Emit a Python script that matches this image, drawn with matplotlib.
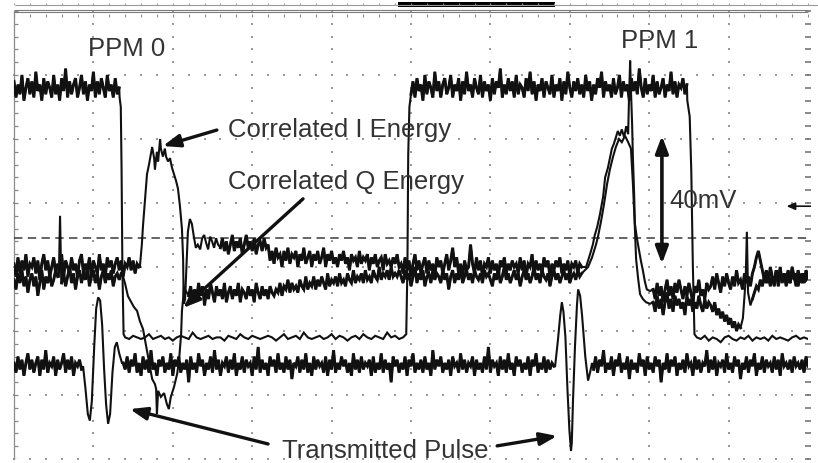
import numpy as np
import matplotlib
matplotlib.use("Agg")
import matplotlib.pyplot as plt
from matplotlib.patches import Rectangle

plt.rcParams['font.family'] = ['Liberation Sans', 'DejaVu Sans']

# ---------------- scope settings ----------------
NS_PER_DIV = 20          # horizontal: 20 ns / div
MV_PER_DIV = 20          # vertical: 20 mV / div
H_DIVS = 10
V_DIVS = 7
SCALE_BAR_MV = 40        # calibration arrow
SCALE_BAR_CENTER_MV = 81
CURSOR_MV = 69           # horizontal cursor level
GROUND_MV = 79           # channel reference marker
RECORD_WINDOW_NS = (96.7, 136.3)

# ---------------- CH1: PPM gate (square wave) ----------------
ch1_high_a = [118, 113, 117, 114, 120, 112, 116, 119, 114, 118,
              113, 121, 115, 117, 112, 119, 114, 118, 116, 113,
              120, 114, 117, 112, 119, 115, 122, 113, 118, 114,
              117, 119, 113, 116, 120, 114, 118, 112, 117, 115,
              121, 113, 118, 114, 119, 116, 113, 120, 115, 117,
              113, 119, 114, 116]
ch1_fall_a_t = [26.6, 26.9, 27.1, 27.3, 27.6]
ch1_fall_a_v = [113, 110, 90, 60, 39]
ch1_low_a = [38, 37.5, 38.5, 38, 37.5, 38, 39, 37.5, 38, 38.5,
             37.5, 38, 37, 38, 38.5, 38, 37.5, 39.5, 38, 37.5,
             38, 38.5, 37.5, 38, 38, 37, 38.5, 38, 37.5, 39,
             38, 37.5, 38.5, 38, 37.5, 38, 38.5, 38, 37, 38,
             39, 37.5, 38, 38.5, 37.5, 39.5, 38, 37.5, 38, 38.5,
             37.5, 38, 39, 37.5, 38.5, 38, 37, 38, 38.5, 37.5,
             39, 38, 37.5, 38.5, 38, 37.5, 39.5, 38, 38.5, 37.5,
             38]
ch1_rise_t = [98.8, 99.1, 99.3, 99.6]
ch1_rise_v = [39, 60, 95, 110]
ch1_high_b = [114, 118, 113, 119, 115, 117, 112, 120, 114, 118,
              116, 113, 121, 115, 118, 113, 117, 119, 114, 116,
              120, 113, 117, 115, 119, 112, 118, 114, 121, 115,
              117, 113, 119, 116, 114, 120, 113, 118, 115, 117,
              112, 119, 114, 118, 116, 122, 113, 117, 114, 119,
              115, 118, 113, 120, 114, 117, 116, 113, 119, 115,
              121, 114, 118, 112, 117, 115, 119, 113, 118, 116,
              114, 120, 113, 117, 115, 119, 112, 118, 114, 121,
              116, 113, 118, 115, 119, 114, 117, 113, 120, 115,
              118, 112, 117, 114, 119, 116, 121, 113, 118, 115,
              117, 113, 119, 114, 116, 120, 113, 118, 115, 117,
              112, 119, 115, 118, 114, 122, 116, 113, 119, 114,
              117, 115, 120, 113, 118, 114, 116, 119, 113, 117,
              115, 121, 114, 118, 113, 117, 116, 119, 114, 117]
ch1_fall_b_t = [169.6, 170.2, 170.6, 171.0, 171.4]
ch1_fall_b_v = [112, 107, 90, 60, 39]
ch1_low_b = [38, 37.5, 38.5, 37, 38, 37.5, 36.5, 38, 38.5, 37.5,
             37, 38, 37.5, 38.5, 37, 38, 37.5, 38, 37, 38.5,
             37.5, 38, 37.5, 37, 38, 38.5, 37.5, 38, 37.5]

# ---------------- CH4: transmitted pulse ----------------
ch4_base_a = [30, 27, 32, 28, 31, 26, 30, 33, 28, 31,
              27, 30, 32, 26, 31, 28, 34, 27, 30, 29,
              32, 26, 31, 28, 30, 33, 27, 31, 28, 32,
              26, 30, 29, 31, 28]
ch4_pulse_a_t = [17.4, 18.0, 18.6, 19.1, 19.6, 20.2, 20.7, 21.2, 21.7, 22.2,
                 22.7, 23.2, 23.7, 24.2, 24.8, 25.4, 25.9, 26.5, 27.2]
ch4_pulse_a_v = [29, 22, 14, 12, 18, 35, 47, 50.5, 49.5, 42,
                 28, 17, 11, 14, 27, 35, 36.5, 33, 30]
ch4_base_b = [30, 28, 32, 27, 31, 29, 33, 27, 30, 26,
              32, 28, 31, 27, 34, 28, 30, 26, 31, 29,
              32, 27, 30, 28, 33, 26, 31, 29, 32, 27,
              30, 28, 31, 24, 32, 28, 30, 27, 33, 29,
              31, 26, 30, 28, 32, 27, 34, 28, 31, 26,
              30, 29, 32, 27, 31, 28, 33, 26, 30, 28,
              32, 27, 31, 29, 30, 26, 32, 28, 35, 27,
              31, 28, 30, 26, 32, 29, 31, 27, 33, 28,
              30, 27, 32, 28, 31, 25, 30, 29, 32, 27,
              31, 28, 33, 27, 30, 26, 32, 28, 31, 29,
              30, 27, 32, 26, 31, 28, 34, 27, 30, 28,
              32, 29, 31, 27, 30, 26, 33, 28, 31, 27,
              32, 28, 30, 29, 31, 26, 32, 27, 30, 28,
              33, 27, 31, 28, 30, 24, 32, 29, 31, 27,
              30, 28, 32, 26, 31, 29, 33, 27, 30, 28,
              31, 27, 32, 28, 30, 26, 34, 28, 31, 29,
              32, 27, 30, 28, 31, 26, 32, 29, 30, 27,
              33, 28, 31, 27, 30, 29, 32, 26, 31, 28,
              30, 27, 32, 28, 35, 27, 31, 29, 30, 26,
              32, 28, 31, 27, 33, 28, 30, 26, 32, 29,
              31, 27, 30, 28, 32, 26, 31, 29, 33, 27,
              30, 28, 32, 27, 31, 28, 30, 29]
ch4_pulse_b_t = [136.3, 137.0, 137.6, 138.0, 138.4, 138.9, 139.4, 139.9, 140.3, 140.5,
                 140.8, 141.3, 141.8, 142.1, 142.6, 143.1, 143.9, 144.6, 145.1, 145.6]
ch4_pulse_b_v = [29, 37, 45, 49, 46, 38, 22, 9, 2.5, 5,
                 18, 35, 48, 53, 51, 44.7, 32, 24.5, 27, 30]
ch4_base_c = [28, 32, 27, 31, 29, 34, 27, 30, 28, 32,
              26, 31, 29, 33, 27, 30, 28, 32, 25, 31,
              28, 30, 27, 33, 29, 31, 26, 32, 28, 30,
              27, 32, 29, 31, 24, 30, 28, 33, 27, 31,
              29, 32, 26, 30, 28, 31, 27, 33, 29, 30,
              26, 32, 28, 31, 27, 30, 29, 34, 27, 31,
              28, 32, 26, 30, 29, 31, 27, 33, 28, 30,
              27, 32, 29, 31, 25, 30, 28, 32, 27, 31,
              29, 33, 26, 30, 28, 32, 27, 31, 29, 30,
              27, 32, 28, 31, 26, 33, 29, 30, 28, 31,
              27, 32, 29, 30, 28, 31, 27, 32, 29]

# ---------------- correlated I energy ----------------
i_base_a = [61, 57, 63, 58, 62, 59, 64, 57, 61, 60,
            63, 58, 62, 56, 61, 64, 59, 62, 57, 60,
            63, 58, 61, 59, 64, 57, 62, 60, 58, 63,
            59, 61, 57, 62, 64, 58, 61, 59, 63, 57,
            62, 60, 58, 64, 59, 61, 57, 63, 60, 62,
            58, 61, 63, 59, 62, 57, 61, 60, 63, 59,
            62, 58, 61, 60]
i_pulse_a_t = [31.7, 32.2, 32.5, 33.0, 33.5, 34.0, 34.3, 34.8, 35.3, 35.5,
               36.0, 36.3, 36.8, 37.0, 37.5, 38.0, 38.3, 38.8, 39.3, 39.8,
               40.3, 40.8, 41.3, 41.8, 42.3, 42.6, 42.7, 42.8, 43.1, 43.5,
               43.8, 44.3, 44.8, 45.3, 45.8, 46.3, 46.9, 47.4, 47.9, 48.4,
               48.9, 49.4, 49.9, 50.4, 50.9, 51.4]
i_pulse_a_v = [60, 67, 73, 81, 89, 92, 94, 97.5, 94, 90.5,
               96, 93, 100, 97, 94.5, 97, 94.5, 93, 94, 91,
               89, 87, 84.5, 79, 72, 62.5, 53, 48.5, 50, 62,
               71, 75, 73.5, 69.5, 66, 67, 65.5, 69, 70, 67.5,
               65.5, 69.5, 68, 66, 69, 67]
i_after_a = [66, 69, 65, 68, 64, 67, 70, 65, 68, 66,
             69, 64, 67, 70, 66, 68, 65, 69, 64, 67,
             68, 65, 69, 66, 67,
             62, 65, 61, 66, 63, 64, 60, 65, 62, 66,
             61, 64, 63, 65, 60, 64, 62, 66, 61, 63,
             65, 60, 64, 62, 65, 61, 63, 66, 60, 64,
             62, 65, 61, 63, 60, 64, 62, 65, 61, 63,
             59, 64, 62, 63, 60, 65, 61, 63, 62, 64,
             59, 63, 61, 64, 60, 62, 63, 59, 64, 61,
             62, 60, 63, 61, 64, 60,
             61, 58, 63, 59, 62, 57, 61, 64, 59, 62,
             58, 61, 63, 58, 62, 59, 61, 57, 63, 60,
             62, 58, 61, 64, 59, 62, 66, 60, 63, 58,
             61, 57, 62, 59, 60, 67, 61, 58, 63, 59,
             62, 57, 61, 60, 63, 58, 62, 59, 61, 57,
             62, 60, 63, 58, 61, 59, 62, 60, 61, 58,
             63, 59, 62, 57, 61, 60, 64, 58, 62, 59,
             61, 58, 63, 60, 62, 57, 61, 59, 62, 60,
             63, 58, 61, 59, 62, 57, 61, 60, 62, 58,
             61, 60]
i_pulse_b_t = [144.1, 145.1, 145.8, 146.3, 146.9, 147.6, 148.4, 148.9, 149.6, 150.1,
               150.6, 151.1, 151.6, 152.1, 152.6, 153.1, 153.7, 154.2, 154.7, 154.9,
               155.2, 155.4, 155.7, 155.9, 156.2, 156.4, 156.9, 157.4, 157.9, 158.4,
               158.9, 159.4, 160.2]
i_pulse_b_v = [60, 64, 67, 70, 72.5, 76.5, 82, 88, 91, 94,
               97, 98.5, 100.5, 102.5, 101, 103, 100.5, 104, 101.5, 112,
               124.5, 115.5, 104.5, 94, 83, 73.5, 69, 65.5, 62, 59,
               55.5, 53, 52.5]
i_after_b = [53, 50, 55, 51, 54, 49, 53, 56, 51, 54,
             50, 55, 52, 56, 53, 50, 54, 51, 55, 52,
             49, 54, 52, 56, 51, 53, 50, 55, 53,
             54, 57, 53, 58, 55, 52, 57, 54, 58, 55,
             53, 57, 54, 59, 55, 56, 53, 58, 55, 57,
             54, 58,
             60, 63, 65, 62, 59,
             56, 59, 55, 60, 57, 54, 59, 56, 60, 55,
             58, 56, 59, 55, 60, 57, 54, 59, 56, 58,
             55, 59, 57]

# ---------------- correlated Q energy ----------------
q_base_a1 = [56, 53, 58, 55, 59, 54, 57, 52, 56, 58,
             54, 57, 51, 55, 59, 53, 57, 55, 58, 54,
             56, 59, 57]
q_spike_a_t = [11.3, 11.6, 11.9]
q_spike_a_v = [57, 76, 56]
q_base_a2 = [55, 58, 54, 57, 60, 55, 58, 53, 57, 59,
             55, 58, 56, 60, 54, 57, 59, 55, 58, 53,
             57, 59, 55, 58, 56, 59, 54, 57, 58, 56,
             58]
q_dive_t = [27.5, 28.0, 28.7, 29.5, 30.2, 31.0, 31.7, 32.5, 33.2, 34.0,
            34.8, 35.5, 35.8, 36.0, 36.3, 37.0, 37.8, 38.5, 39.0, 39.5,
            40.3, 41.1, 41.6, 42.1, 42.3, 42.6, 42.8, 43.3]
q_dive_v = [56.9, 54.7, 50.9, 49.1, 47.5, 46.3, 43.1, 40.6, 35.9, 30.6,
            25, 23.4, 21.9, 14.1, 21.3, 19.4, 20.6, 17.2, 15.6, 19.4,
            22.5, 26.6, 31.3, 39.1, 46.3, 50, 53.8, 52.5]
q_after_a = [51, 54, 49, 53, 50, 55, 51, 54, 48, 53,
             50, 55, 52, 49, 54, 51, 53, 50, 55, 49,
             52, 54, 50, 53, 51, 55, 49, 53, 52, 50,
             54, 51, 53, 49, 55, 52, 50, 54, 51, 53,
             50, 54, 52, 51, 53,
             52, 55, 51, 54, 53, 56, 52, 55, 53, 54,
             52, 56, 54, 53, 57, 53, 55, 54, 57, 53,
             56, 54, 57, 55, 53, 58, 54, 56, 55, 57,
             54, 58, 55, 56, 54, 58, 56, 55, 59, 55,
             57, 56, 58, 55, 59, 56, 57, 55, 59, 57,
             56, 60, 56, 58, 57, 59, 56, 60, 57, 58,
             57, 59,
             57, 55, 59, 56, 58, 54, 57, 60, 55, 58,
             56, 59, 54, 57, 58, 55, 59, 56, 58, 57,
             55, 59, 56, 58, 53, 57, 59, 55, 58, 56,
             60, 55, 57, 59, 56, 58, 55, 59, 57, 56,
             58, 55, 59, 57, 58, 56, 54, 58, 56, 59,
             55, 57, 60, 56, 58, 55, 57, 59, 56, 58,
             54, 57, 59, 56, 58, 55, 57, 60, 56, 58,
             55, 59, 57, 56, 58, 54, 57, 59, 56, 58,
             55, 57, 59, 56, 58, 55, 57, 58, 56, 59,
             57, 58]
q_pulse_b_t = [144.6, 145.6, 146.6, 147.1, 147.9, 148.6, 149.4, 150.1, 150.9, 151.6,
               152.4, 153.1, 153.9, 154.7, 155.4, 155.9, 156.4, 156.7, 157.2, 157.7,
               158.4, 159.2, 160.2]
q_pulse_b_v = [60, 63, 67, 69.5, 74.5, 79.5, 86, 90.5, 94.5, 97.5,
               100, 99, 101, 99, 97, 86, 72, 62.5, 56.5, 51.5,
               50, 49, 48.5]
q_after_b1 = [49, 46, 51, 47, 50, 45, 49, 52, 47, 50,
              46, 51, 48, 50, 47, 49, 45, 51, 48, 50,
              46, 49, 47, 51, 48, 46, 50, 47, 49,
              48, 46, 49, 45, 47, 44, 46, 43, 45, 42,
              44, 41, 43, 40, 42, 41]
q_spike_b_t = [183.6, 184.3, 184.6, 184.9, 185.5]
q_spike_b_v = [44, 56, 71, 52, 48]
q_after_b2 = [50, 52, 54, 53, 56, 54, 57, 55, 58, 54,
              57, 55, 59, 54, 57, 56, 58, 54, 57, 55,
              59, 56, 58, 54, 57, 55, 58, 56, 57]

# ---------------- styling ----------------
INK = '#111111'
LABEL = '#333333'
GRID = '#9a9a9a'


def band(t0, t1, values):
    """Uniformly sampled noisy record between t0 and t1 (ns)."""
    v = np.asarray(values, dtype=float)
    return 'band', np.linspace(t0, t1, v.size), v


def thin(t0, t1, values):
    v = np.asarray(values, dtype=float)
    return 'thin', np.linspace(t0, t1, v.size), v


def pts(times, values):
    return 'edge', np.asarray(times, dtype=float), np.asarray(values, dtype=float)


fig = plt.figure(figsize=(8.18, 4.64), dpi=100)
fig.patch.set_facecolor('white')
ax = fig.add_axes([14 / 818, 4 / 464, 794 / 818, 448 / 464])
t_max = H_DIVS * NS_PER_DIV
v_max = V_DIVS * MV_PER_DIV
ax.set_xlim(0, t_max)
ax.set_ylim(0, v_max)
ax.set_axis_off()

# ---- graticule ----
minor_t = np.arange(0, t_max + 1e-9, NS_PER_DIV / 5)
minor_v = np.arange(0, v_max + 1e-9, MV_PER_DIV / 5)
for k in range(1, H_DIVS):
    ax.plot(np.full(minor_v.size, k * NS_PER_DIV), minor_v, ls='none', marker='s',
            ms=1.5, mew=0, color=GRID, zorder=1, clip_on=False)
for k in range(0, V_DIVS):
    ax.plot(minor_t, np.full(minor_t.size, k * MV_PER_DIV), ls='none', marker='s',
            ms=1.5, mew=0, color=GRID, zorder=1, clip_on=False)
# frame edges with minor ticks
ax.plot([0, 0], [0, v_max], color='#8a8a8a', lw=0.9, clip_on=False, zorder=1)
ax.hlines(minor_v, 0, 0.9, colors='#8a8a8a', lw=0.9, zorder=1)
ax.plot(np.full(minor_v.size, t_max), minor_v, ls='none', marker='_', ms=4,
        mew=1.2, color='#777777', clip_on=False, zorder=1)
# top rulers and record window
ax.hlines([v_max + 0.3, v_max - 0.4], 0, t_max, colors='#7a7a7a', lw=0.8, clip_on=False)
ax.vlines(minor_t, v_max - 1.9, v_max - 0.9, colors='#8a8a8a', lw=0.8, clip_on=False)
ax.hlines(v_max + 2.0, 0.2, t_max + 2.5, colors='#9a9a9a', lw=0.8, clip_on=False)
ax.vlines(minor_t, v_max + 2.0, v_max + 2.6, colors='#9a9a9a', lw=0.7, clip_on=False)
ax.add_patch(Rectangle((RECORD_WINDOW_NS[0], v_max + 1.25),
                       RECORD_WINDOW_NS[1] - RECORD_WINDOW_NS[0], 1.55,
                       facecolor='black', edgecolor='none', clip_on=False))

# cursor line
ax.axhline(CURSOR_MV, color='#3a3a3a', lw=1.1, dashes=(5.5, 3.5), zorder=2)


# ---- traces ----
def draw_trace(pieces, lw=1.5, band_lw=2.1):
    ts = np.concatenate([p[1] for p in pieces])
    vs = np.concatenate([p[2] for p in pieces])
    ax.plot(ts, vs, color=INK, lw=lw, zorder=3, solid_joinstyle='miter')
    for kind, t, v in pieces:
        if kind == 'band':
            ax.plot(t, v, color=INK, lw=band_lw, zorder=3, solid_joinstyle='miter')


draw_trace([
    band(0, 26.5, ch1_high_a), pts(ch1_fall_a_t, ch1_fall_a_v),
    thin(28, 98, ch1_low_a), pts(ch1_rise_t, ch1_rise_v),
    band(100, 169.5, ch1_high_b), pts(ch1_fall_b_t, ch1_fall_b_v),
    thin(172, 200, ch1_low_b),
])
draw_trace([
    band(0, 17, ch4_base_a), pts(ch4_pulse_a_t, ch4_pulse_a_v),
    band(27.5, 136, ch4_base_b), pts(ch4_pulse_b_t, ch4_pulse_b_v),
    band(146, 200, ch4_base_c),
])
draw_trace([
    band(0, 31.5, i_base_a), pts(i_pulse_a_t, i_pulse_a_v),
    band(52, 143, i_after_a), pts(i_pulse_b_t, i_pulse_b_v),
    band(161, 200, i_after_b),
])
draw_trace([
    band(0, 11, q_base_a1), pts(q_spike_a_t, q_spike_a_v),
    band(12, 27, q_base_a2), pts(q_dive_t, q_dive_v),
    band(44, 143, q_after_a), pts(q_pulse_b_t, q_pulse_b_v),
    band(161, 183, q_after_b1), pts(q_spike_b_t, q_spike_b_v),
    band(186, 200, q_after_b2),
])

# ---- annotations ----
text_kw = dict(fontsize=18.5, color=LABEL, ha='left', va='baseline', zorder=6)
ax.text(18.6, 126.3, 'PPM 0', **text_kw)
ax.text(152.9, 128.7, 'PPM 1', **text_kw)
ax.text(53.9, 100.9, 'Correlated I Energy', **text_kw)
ax.text(53.9, 84.7, 'Correlated Q Energy', **text_kw)
ax.text(165.2, 78.8, f'{SCALE_BAR_MV}mV', **text_kw)
ax.text(67.5, 0.5, 'Transmitted Pulse', **text_kw)


def pointer(tail, tip, style='-|>', lw=2.4):
    ax.annotate('', xy=tip, xytext=tail, annotation_clip=False, zorder=6,
                arrowprops=dict(arrowstyle=f'{style},head_length=0.85,head_width=0.32',
                                lw=lw, color=INK, shrinkA=0, shrinkB=0,
                                mutation_scale=12))


pointer((51.1, 102.8), (37.5, 97.8))
pointer((72.8, 81.3), (42.6, 47.2))
pointer((64.0, 4.7), (29.2, 15.6))
pointer((121.7, 4.1), (136.8, 7.2))
pointer((163.2, SCALE_BAR_CENTER_MV - SCALE_BAR_MV / 2),
        (163.2, SCALE_BAR_CENTER_MV + SCALE_BAR_MV / 2), style='<|-|>', lw=2.6)
ax.annotate('', xy=(194.6, GROUND_MV), xytext=(200.6, GROUND_MV), annotation_clip=False,
            arrowprops=dict(arrowstyle='-|>,head_length=0.5,head_width=0.22', lw=1.2,
                            color=INK, shrinkA=0, shrinkB=0, mutation_scale=10))

fig.savefig('out.png', dpi=100, facecolor='white')
